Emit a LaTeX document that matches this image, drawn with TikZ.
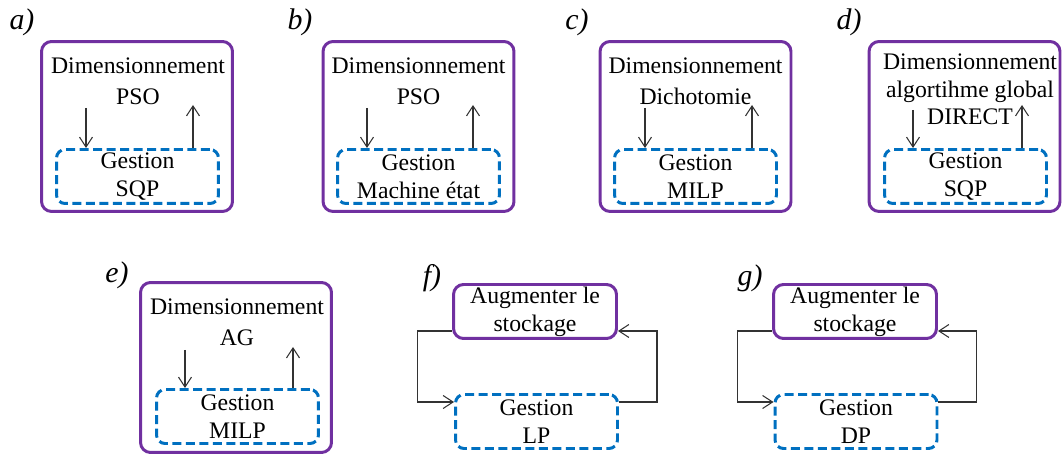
\documentclass[tikz,border=0pt]{standalone}
\usepackage{fontspec}
\setmainfont{Liberation Serif}
\usetikzlibrary{arrows.meta}
\definecolor{dimpurple}{RGB}{112,48,160}
\definecolor{gesblue}{RGB}{0,112,192}
\tikzset{
  dimbox/.style={draw=dimpurple, line width=1.7pt, rounded corners=0.2cm, minimum width=3.82cm, minimum height=3.4cm},
  dimsmall/.style={draw=dimpurple, line width=1.7pt, rounded corners=0.2cm, minimum width=3.26cm, minimum height=1.08cm, align=center, inner sep=0pt},
  gesbox/.style={draw=gesblue, line width=1.7pt, dash pattern=on 0.18cm off 0.09cm, rounded corners=0.17cm, minimum width=3.24cm, minimum height=1.08cm, align=center, inner sep=0pt},
  txt/.style={align=center, inner sep=0pt, font=\fontsize{13.5}{17.5}\selectfont},
  flow/.style={-{Straight Barb[length=2mm,width=2.6mm]}, line width=0.6pt, draw=black!80},
  lbl/.style={font=\fontsize{17}{20}\selectfont\itshape}
}

\begin{document}
\begin{tikzpicture}[x=0.02cm, y=0.02cm, font=\fontsize{13.5}{15.9}\selectfont]
\useasboundingbox (0,0) rectangle (1064,456);

% a) PSO / SQP
\node[lbl] (la) at (22,434) {a)};
\node[dimbox] (optA) at (137,329.5) {};
\node[txt] (txtA) at (138,374.5) {Dimensionnement\\PSO};
\node[gesbox] (gesA) at (137.5,279.5) {Gestion\\SQP};
\coordinate (dnA) at (86,348);
\coordinate (upA) at (193,351);
\draw[flow] (dnA) -- (dnA |- gesA.north);
\draw[flow] (upA |- gesA.north) -- (upA);

% b) PSO / machine etat
\node[lbl] (lb) at (300,434) {b)};
\node[dimbox] (optB) at (418.5,329.5) {};
\node[txt] (txtB) at (418.5,374.5) {Dimensionnement\\PSO};
\node[gesbox] (gesB) at (418.5,279.5) {Gestion\\Machine état};
\coordinate (dnB) at (367,348);
\coordinate (upB) at (473,351);
\draw[flow] (dnB) -- (dnB |- gesB.north);
\draw[flow] (upB |- gesB.north) -- (upB);

% c) dichotomie / MILP
\node[lbl] (lc) at (577,434) {c)};
\node[dimbox] (optC) at (695.5,329.5) {};
\node[txt] (txtC) at (695.5,374.5) {Dimensionnement\\Dichotomie};
\node[gesbox] (gesC) at (695.5,279.5) {Gestion\\MILP};
\coordinate (dnC) at (645,348);
\coordinate (upC) at (752,351);
\draw[flow] (dnC) -- (dnC |- gesC.north);
\draw[flow] (upC |- gesC.north) -- (upC);

% d) DIRECT / SQP
\node[lbl] (ld) at (849,434) {d)};
\node[dimbox] (optD) at (964.5,329.5) {};
\node[txt, font=\fontsize{13.5}{15.6}\selectfont] (txtD) at (970,366.5) {Dimensionnement\\algortihme global\\DIRECT};
\node[gesbox] (gesD) at (965.5,279.5) {Gestion\\SQP};
\coordinate (dnD) at (913,346);
\coordinate (upD) at (1022,351);
\draw[flow] (dnD) -- (dnD |- gesD.north);
\draw[flow] (upD |- gesD.north) -- (upD);

% e) AG / MILP
\node[lbl] (le) at (117,181) {e)};
\node[dimbox] (optE) at (236,88.5) {};
\node[txt] (txtE) at (237,134) {Dimensionnement\\AG};
\node[gesbox] (gesE) at (237.5,39.5) {Gestion\\MILP};
\coordinate (dnE) at (185,106);
\coordinate (upE) at (293,109);
\draw[flow] (dnE) -- (dnE |- gesE.north);
\draw[flow] (upE |- gesE.north) -- (upE);

% f) stockage / LP
\node[lbl] (lf) at (432,178) {f)};
\node[dimsmall] (optF) at (535,144.5) {Augmenter le\\stockage};
\node[gesbox] (gesF) at (536.5,34.5) {Gestion\\LP};
\draw[flow] ([yshift=-0.39cm]optF.west) -- ++(-0.7cm,0) |- ([yshift=0.39cm]gesF.west);
\draw[flow] ([yshift=0.39cm]gesF.east) -- ++(0.76cm,0) |- ([yshift=-0.39cm]optF.east);

% g) stockage / DP
\node[lbl] (lg) at (750,178) {g)};
\node[dimsmall] (optG) at (855,144.5) {Augmenter le\\stockage};
\node[gesbox] (gesG) at (856,34.5) {Gestion\\DP};
\draw[flow] ([yshift=-0.39cm]optG.west) -- ++(-0.7cm,0) |- ([yshift=0.39cm]gesG.west);
\draw[flow] ([yshift=0.39cm]gesG.east) -- ++(0.76cm,0) |- ([yshift=-0.39cm]optG.east);
\end{tikzpicture}
\end{document}
